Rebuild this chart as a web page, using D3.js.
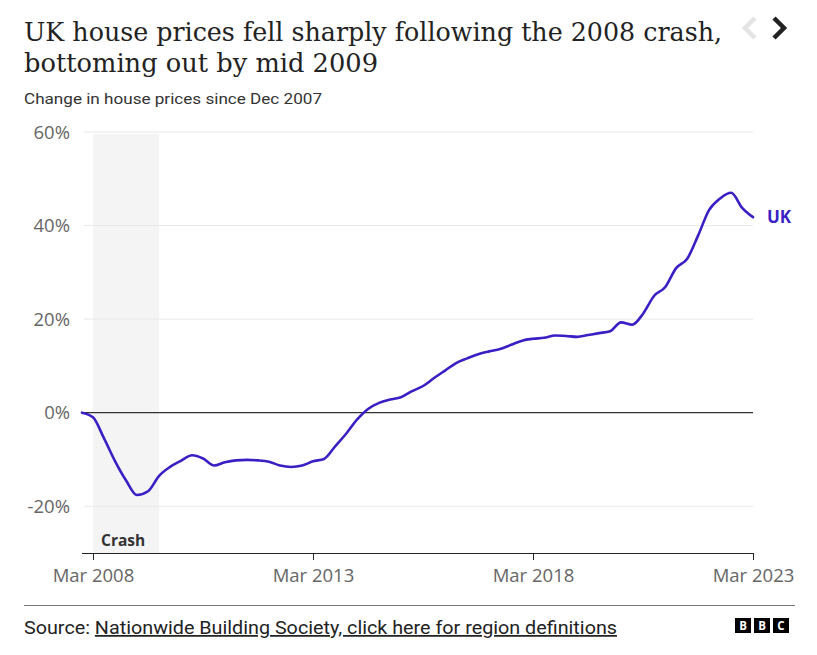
<!DOCTYPE html>
<html>
<head>
<meta charset="utf-8">
<script src="https://cdn.jsdelivr.net/npm/d3@7"></script>
<style>
  html, body { margin: 0; padding: 0; background: #fff; }
  svg { display: block; }
</style>
</head>
<body>
<div id="chart"></div>
<script>
// ---- Data ----
const dates = ["2007-12","2008-03","2008-06","2008-09","2008-12","2009-03","2009-06","2009-09","2009-12",
  "2010-03","2010-06","2010-09","2010-12","2011-03","2011-06","2011-09","2011-12",
  "2012-03","2012-06","2012-09","2012-12","2013-03","2013-06","2013-09","2013-12",
  "2014-03","2014-06","2014-09","2014-12","2015-03","2015-06","2015-09","2015-12",
  "2016-03","2016-06","2016-09","2016-12","2017-03","2017-06","2017-09","2017-12",
  "2018-03","2018-06","2018-09","2018-12","2019-03","2019-06","2019-09","2019-12",
  "2020-03","2020-06","2020-09","2020-12","2021-03","2021-06","2021-09","2021-12",
  "2022-03","2022-06","2022-09","2022-12","2023-03"];
const ukValues = [0,-1.0,-5.5,-10.4,-14.5,-17.6,-16.8,-13.5,-11.6,
  -10.3,-9.1,-9.8,-11.3,-10.6,-10.2,-10.1,-10.2,
  -10.5,-11.3,-11.6,-11.3,-10.4,-9.9,-7.2,-4.5,
  -1.5,0.8,2.1,2.8,3.3,4.6,5.7,7.4,
  9.0,10.6,11.6,12.5,13.1,13.6,14.5,15.4,
  15.8,16.0,16.5,16.4,16.2,16.6,17.0,17.4,
  19.3,18.8,21.2,25.0,26.8,30.9,32.9,37.9,
  43.3,45.8,47.0,43.8,41.8];
const yTicks = [-20, 0, 20, 40, 60];
const yTickLabels = ["-20%", "0%", "20%", "40%", "60%"];
const xTicks = ["2008-03", "2013-03", "2018-03", "2023-03"];
const xTickLabels = ["Mar 2008", "Mar 2013", "Mar 2018", "Mar 2023"];
const crashPeriod = ["2008-03", "2009-09"];
const seriesName = "UK";

const title1 = "UK house prices fell sharply following the 2008 crash,";
const title2 = "bottoming out by mid 2009";
const subtitle = "Change in house prices since Dec 2007";

// ---- Setup ----
const W = 817, H = 655;
const parse = d3.timeParse("%Y-%m");
const data = dates.map((d, i) => ({ date: parse(d), value: ukValues[i] }));

const svg = d3.select("#chart").append("svg").attr("width", W).attr("height", H);
svg.append("rect").attr("width", W).attr("height", H).attr("fill", "#fff");

const x = d3.scaleTime().domain([parse("2007-12"), parse("2023-03")]).range([82, 753]);
const y = d3.scaleLinear().domain([-30, 60]).range([553, 132]);

const lineColor = "#3b1fc4";
const sansFont = "'Open Sans', 'Noto Sans', sans-serif";

// Title
svg.append("text").attr("x", 24).attr("y", 41)
  .attr("font-family", "'DejaVu Serif', serif").attr("font-size", 26).attr("fill", "#222")
  .attr("textLength", 698).attr("lengthAdjust", "spacingAndGlyphs").text(title1);
svg.append("text").attr("x", 24).attr("y", 72)
  .attr("font-family", "'DejaVu Serif', serif").attr("font-size", 26).attr("fill", "#222")
  .attr("textLength", 354).attr("lengthAdjust", "spacingAndGlyphs").text(title2);
svg.append("text").attr("x", 24).attr("y", 104)
  .attr("font-family", "'Liberation Sans Narrow', 'Roboto', sans-serif").attr("font-size", 15.5).attr("fill", "#333")
  .attr("textLength", 298).attr("lengthAdjust", "spacingAndGlyphs").text(subtitle);

// Arrows
svg.append("path").attr("d", "M755,18 L745,28 L755,38").attr("fill", "none")
  .attr("stroke", "#e4e4e4").attr("stroke-width", 4.5).attr("stroke-linejoin", "miter");
svg.append("path").attr("d", "M774,18 L784,28 L774,38").attr("fill", "none")
  .attr("stroke", "#222").attr("stroke-width", 4.5).attr("stroke-linejoin", "miter");

// Crash band
svg.append("rect")
  .attr("x", x(parse(crashPeriod[0])))
  .attr("width", x(parse(crashPeriod[1])) - x(parse(crashPeriod[0])))
  .attr("y", 134).attr("height", y(-30) - 134)
  .attr("fill", "#f4f4f4");

// Gridlines
const g = svg.append("g");
g.selectAll(".grid").data(yTicks.filter(d => d !== 0)).enter().append("line")
  .attr("x1", 84).attr("x2", 753)
  .attr("y1", d => y(d)).attr("y2", d => y(d))
  .attr("stroke", "#e8e8e8").attr("stroke-width", 1);

// Y tick labels
g.selectAll(".ylab").data(yTicks).enter().append("text")
  .attr("x", 70).attr("y", d => y(d)).attr("dy", "0.36em")
  .attr("text-anchor", "end")
  .attr("font-family", sansFont).attr("font-size", 18.5).attr("fill", "#666")
  .text((d, i) => yTickLabels[i]);

// Zero line
g.append("line").attr("x1", 82).attr("x2", 753).attr("y1", y(0)).attr("y2", y(0))
  .attr("stroke", "#333").attr("stroke-width", 1.3);

// X axis
const xAxis = d3.axisBottom(x)
  .tickValues(xTicks.map(parse))
  .tickFormat((d, i) => xTickLabels[i])
  .tickSize(7).tickSizeOuter(0);
const ax = svg.append("g").attr("transform", `translate(0,${y(-30)})`).call(xAxis);
ax.select(".domain").attr("stroke", "#222").attr("d", `M82,0.5H753`);
ax.selectAll(".tick line").attr("stroke", "#222");
ax.selectAll(".tick text").attr("font-family", sansFont).attr("font-size", 18.5)
  .attr("fill", "#666").attr("dy", "1.0em");

// Crash label
svg.append("text").attr("x", 101).attr("y", 546)
  .attr("font-family", sansFont).attr("font-size", 15.5).attr("font-weight", "bold")
  .attr("fill", "#333").text("Crash");

// Line
const line = d3.line().x(d => x(d.date)).y(d => y(d.value)).curve(d3.curveMonotoneX);
svg.append("path").datum(data).attr("d", line)
  .attr("fill", "none").attr("stroke", lineColor).attr("stroke-width", 2.6)
  .attr("stroke-linejoin", "round").attr("stroke-linecap", "round");

// Series label
const last = data[data.length - 1];
svg.append("text").attr("x", 767).attr("y", y(last.value) + 6)
  .attr("font-family", sansFont).attr("font-size", 17).attr("font-weight", "bold")
  .attr("fill", lineColor).text(seriesName);

// Footer
svg.append("line").attr("x1", 24).attr("x2", 795).attr("y1", 605.5).attr("y2", 605.5)
  .attr("stroke", "#777").attr("stroke-width", 1);
const src = svg.append("text").attr("x", 24).attr("y", 634)
  .attr("font-family", "'Liberation Sans Narrow', 'Roboto', sans-serif").attr("font-size", 17.5).attr("fill", "#222")
  .attr("textLength", 593).attr("lengthAdjust", "spacingAndGlyphs");
src.append("tspan").text("Source: ");
src.append("tspan").attr("text-decoration", "underline").text("Nationwide Building Society, click here for region definitions");

// BBC logo
const logo = svg.append("g");
["B", "B", "C"].forEach((ch, i) => {
  const bx = 735 + i * 19;
  logo.append("rect").attr("x", bx).attr("y", 618).attr("width", 16).attr("height", 15).attr("fill", "#000");
  logo.append("text").attr("x", bx + 8).attr("y", 630).attr("text-anchor", "middle")
    .attr("font-family", sansFont).attr("font-weight", "bold").attr("font-size", 11.5)
    .attr("fill", "#fff").text(ch);
});
</script>
</body>
</html>
